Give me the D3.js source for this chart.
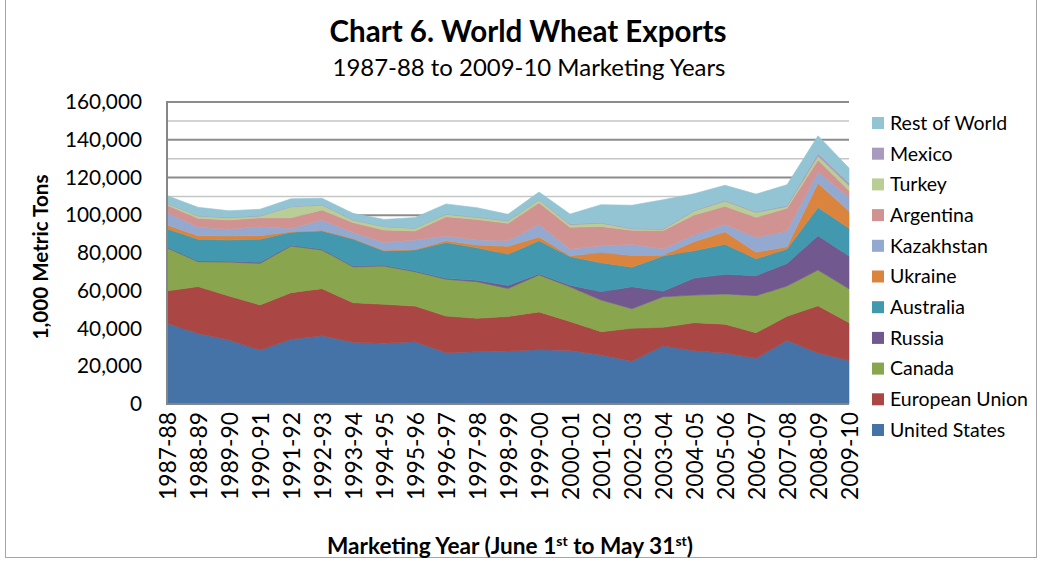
<!DOCTYPE html>
<html>
<head>
<meta charset="utf-8">
<script src="https://cdn.jsdelivr.net/npm/d3@7"></script>
<style>
  body { margin: 0; background: #fff; }
  svg { display: block; }
  text { font-family: Lato, "Open Sans", "Liberation Sans", sans-serif; fill: #000; }
</style>
</head>
<body>
<svg id="chart" width="1042" height="563"></svg>
<script>
// Marketing years (June 1 to May 31)
const years = ["1987-88","1988-89","1989-90","1990-91","1991-92","1992-93","1993-94","1994-95",
  "1995-96","1996-97","1997-98","1998-99","1999-00","2000-01","2001-02","2002-03","2003-04",
  "2004-05","2005-06","2006-07","2007-08","2008-09","2009-10"];

// Wheat exports, 1,000 metric tons
const unitedStates = [42800,37400,33900,28600,34300,36200,32700,32200,33000,27200,27700,28100,28800,28400,26000,22700,30800,28200,27000,24200,33700,27000,23000];
const europeanUnion = [17100,24800,23300,23900,24700,24900,21000,20600,18900,19400,17700,18300,20000,15300,12300,17400,9800,14900,15300,13500,12800,25000,20100];
const canada = [22900,13200,18000,22000,24700,20500,19000,20300,18200,19500,19400,14800,19600,18400,16800,10400,16200,14600,16000,19700,16000,19000,17900];
const russia = [300,400,400,600,400,400,400,400,300,500,700,1600,500,800,4400,11600,3000,9000,10400,10600,12000,18200,17400];
const australia = [9800,11500,11300,12200,6900,9700,14300,7600,11200,18900,17300,16600,17600,15200,15300,10400,18600,14500,15900,8900,7600,14900,14700];
const ukraine = [2000,1900,2100,1900,300,300,300,300,300,1000,1400,4200,2000,400,5400,6200,400,4800,6600,3500,1200,12800,9100];
const kazakhstan = [6500,4400,3600,4700,1700,5500,3100,4200,5000,2500,2700,2900,6600,3500,3700,6000,3300,3500,3900,7900,8300,6000,7300];
const argentina = [4000,4800,4900,4800,5700,5300,5300,6600,4800,10200,10900,9200,11500,11600,10200,7300,9800,10600,9700,10600,12100,6400,3600];
const turkey = [900,1200,1200,900,5800,2600,1400,1800,1400,1300,1100,1300,1600,1400,1700,800,600,2200,2700,2600,1000,2100,2600];
const mexico = [100,200,200,200,200,300,200,100,100,200,200,200,200,400,300,300,300,300,500,400,500,1300,1400];
const restOfWorld = [4000,4400,3500,3400,4000,3300,3300,3700,5600,5300,4900,3300,3900,5200,9500,12200,15400,8800,7900,9300,11000,9400,7900];

// Stack order, bottom to top
const seriesNames = ["United States","European Union","Canada","Russia","Australia","Ukraine",
  "Kazakhstan","Argentina","Turkey","Mexico","Rest of World"];
const seriesValues = [unitedStates, europeanUnion, canada, russia, australia, ukraine,
  kazakhstan, argentina, turkey, mexico, restOfWorld];
const seriesColors = ["#4572A7","#AA4643","#89A54E","#71588F","#4198AF","#DB843D",
  "#93A9CF","#D19392","#B9CD96","#A99BBD","#92C4D4"];

const yTicks = [0,20000,40000,60000,80000,100000,120000,140000,160000];

const rows = years.map((yr, i) => {
  const r = { year: yr };
  seriesNames.forEach((n, k) => { r[n] = seriesValues[k][i]; });
  return r;
});

const svg = d3.select("#chart");
const W = 1042, H = 563;
const plot = { left: 167, right: 849, top: 102, bottom: 404 };

// outer frame
svg.append("rect").attr("x", 5.5).attr("y", -2).attr("width", 1031).attr("height", 559.5)
  .attr("fill", "#fff").attr("stroke", "#a6a6a6").attr("stroke-width", 1);

const x = d3.scalePoint().domain(years).range([plot.left, plot.right]);
const y = d3.scaleLinear().domain([0, 160000]).range([plot.bottom, plot.top]);

function fit(sel, width) {
  const n = sel.node();
  const cur = parseFloat(sel.attr("font-size"));
  const len = n.getComputedTextLength();
  sel.attr("font-size", (cur * width / len).toFixed(2));
}

// gridlines every 10,000; labelled ones darker
const grid = svg.append("g");
d3.range(10000, 160001, 10000).forEach(v => {
  const major = v % 20000 === 0;
  grid.append("line")
    .attr("x1", plot.left).attr("x2", plot.right)
    .attr("y1", y(v)).attr("y2", y(v))
    .attr("stroke", major ? "#8c8c8c" : "#c6c6c6")
    .attr("stroke-width", major ? 2 : 1.5);
});

// stacked areas
const stack = d3.stack().keys(seriesNames);
const layers = stack(rows);
const area = d3.area()
  .x(d => x(d.data.year))
  .y0(d => y(d[0]))
  .y1(d => y(d[1]));

svg.append("g").selectAll("path").data(layers).join("path")
  .attr("d", area)
  .attr("fill", (d, i) => seriesColors[i])
  .attr("stroke", (d, i) => seriesColors[i])
  .attr("stroke-width", 0.6)
  .attr("stroke-linejoin", "round");

// axis lines
svg.append("line").attr("x1", plot.left).attr("x2", plot.left)
  .attr("y1", plot.top - 1).attr("y2", plot.bottom + 1)
  .attr("stroke", "#868686").attr("stroke-width", 2);
svg.append("line").attr("x1", plot.left).attr("x2", plot.right)
  .attr("y1", plot.bottom).attr("y2", plot.bottom)
  .attr("stroke", "#868686").attr("stroke-width", 2);

// y axis
const yAxis = svg.append("g").attr("transform", `translate(${plot.left},0)`)
  .call(d3.axisLeft(y).tickValues(yTicks).tickFormat(d3.format(",")).tickSize(0).tickPadding(25));
yAxis.select(".domain").remove();
yAxis.selectAll("text").attr("font-size", 20).attr("font-family", null).style("font-family", null);
yAxis.attr("font-family", null);
{
  const probe = yAxis.selectAll("text").filter(d => d === 160000);
  const cur = 20, len = probe.node().getComputedTextLength();
  yAxis.selectAll("text").attr("font-size", (cur * 77 / len).toFixed(2));
}

// x axis with vertical labels
const xAxis = svg.append("g").attr("transform", `translate(0,${plot.bottom})`)
  .call(d3.axisBottom(x).tickSize(0));
xAxis.select(".domain").remove();
xAxis.attr("font-family", null);
xAxis.selectAll("text")
  .attr("font-size", 19)
  .attr("transform", "rotate(-90)")
  .attr("text-anchor", "end")
  .attr("x", -8).attr("y", 0).attr("dy", "0.36em");
{
  const probe = xAxis.selectAll("text").filter(d => d === "1987-88");
  const len = probe.node().getComputedTextLength();
  xAxis.selectAll("text").attr("font-size", (19 * 88 / len).toFixed(2));
}

// titles
const title = svg.append("text").attr("x", 528).attr("y", 42).attr("text-anchor", "middle")
  .attr("font-weight", "bold").attr("font-size", 26).text("Chart 6. World Wheat Exports");
fit(title, 397);
const subtitle = svg.append("text").attr("x", 529).attr("y", 76).attr("text-anchor", "middle")
  .attr("font-size", 22).text("1987-88 to 2009-10 Marketing Years");
fit(subtitle, 393);

const yTitle = svg.append("text")
  .attr("transform", "translate(48,257) rotate(-90)")
  .attr("text-anchor", "middle").attr("font-weight", "bold").attr("font-size", 20)
  .text("1,000 Metric Tons");
fit(yTitle, 165);

const xTitle = svg.append("text").attr("x", 510).attr("y", 554).attr("text-anchor", "middle")
  .attr("font-weight", "bold").attr("font-size", 19);
xTitle.append("tspan").text("Marketing Year (June 1");
xTitle.append("tspan").attr("font-size", "0.62em").attr("dy", "-0.55em").text("st");
xTitle.append("tspan").attr("dy", "0.34em").text(" to May 31");
xTitle.append("tspan").attr("font-size", "0.62em").attr("dy", "-0.55em").text("st");
xTitle.append("tspan").attr("dy", "0.34em").text(")");
fit(xTitle, 366);

// legend, top entry is the top of the stack
const legendOrder = seriesNames.map((n, i) => ({ name: n, color: seriesColors[i] })).reverse();
const legend = svg.append("g");
legendOrder.forEach((d, i) => {
  const cy = 123 + i * 30.7;
  legend.append("rect").attr("x", 872).attr("y", cy - 6).attr("width", 12).attr("height", 12)
    .attr("fill", d.color);
  legend.append("text").attr("x", 890).attr("y", cy).attr("dy", "0.35em")
    .attr("font-size", 18).attr("class", "lg").text(d.name);
});
{
  const probe = legend.selectAll("text.lg").filter(function () { return this.textContent === "European Union"; });
  const len = probe.node().getComputedTextLength();
  legend.selectAll("text.lg").attr("font-size", (18 * 138 / len).toFixed(2));
}
</script>
</body>
</html>
